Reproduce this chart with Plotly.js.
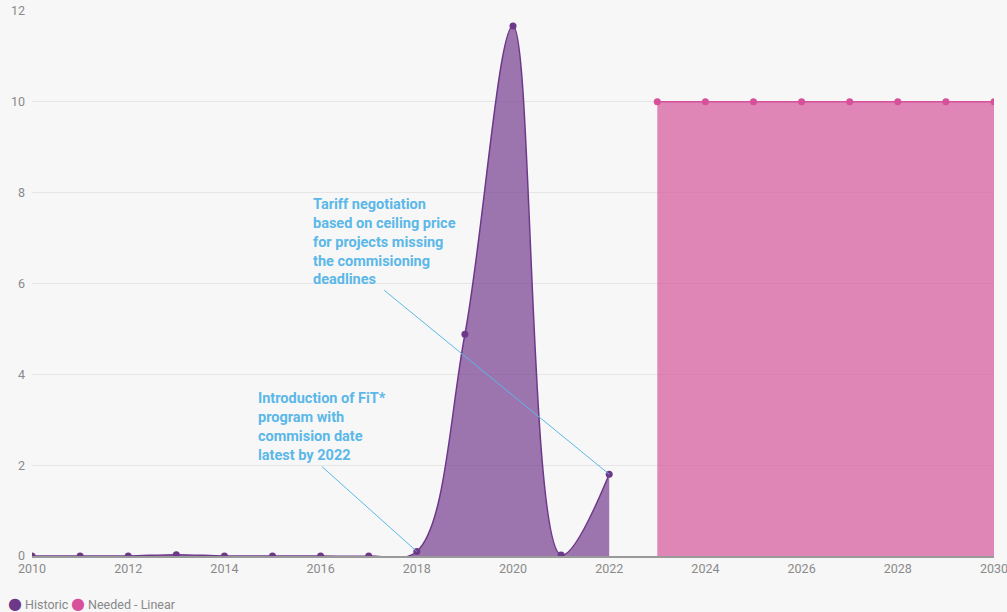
<!DOCTYPE html>
<html>
<head>
<meta charset="utf-8">
<script src="https://cdn.plot.ly/plotly-3.0.1.min.js"></script>
<style>html,body{margin:0;padding:0;background:#f7f7f7;}#chart{width:1007px;height:612px;}</style>
</head>
<body>
<div id="chart"></div>
<script>
const historicYears = [2010,2011,2012,2013,2014,2015,2016,2017,2018,2019,2020,2021,2022];
const historicValues = [0,0,0,0.03,0,0,0,0,0.1,4.88,11.67,0.02,1.8];
const neededYears = [2023,2024,2025,2026,2027,2028,2029,2030];
const neededValues = [10,10,10,10,10,10,10,10];
const xTicks = [2010,2012,2014,2016,2018,2020,2022,2024,2026,2028,2030];
const yTicks = [0,2,4,6,8,10,12];
const seriesNames = ['Historic', 'Needed - Linear'];

const purple = '#6e3889';
const pink = '#d6509a';
const font = 'Roboto, "Open Sans", sans-serif';

const traces = [
  {x: historicYears, y: historicValues, type: 'scatter', mode: 'lines+markers', name: seriesNames[0],
   line: {color: purple, width: 1.5, shape: 'spline', smoothing: 1}, marker: {color: purple, size: 7},
   fill: 'tozeroy', fillcolor: 'rgba(120,66,146,0.72)', showlegend: false, hoverinfo: 'skip'},
  {x: neededYears, y: neededValues, type: 'scatter', mode: 'lines+markers', name: seriesNames[1],
   line: {color: pink, width: 1.5}, marker: {color: pink, size: 7},
   fill: 'tozeroy', fillcolor: 'rgba(214,90,158,0.72)', showlegend: false, hoverinfo: 'skip'}
];

const annColor = '#5bb8e8';
const annFont = {color: annColor, size: 14.5, family: font, weight: 'bold'};
const legendAnn = (name, color, xpx) => ({
  x: (xpx - 32) / 962, y: (556 - 603) / 545, xref: 'paper', yref: 'paper', xanchor: 'left', yanchor: 'middle',
  showarrow: false, align: 'left',
  text: '<span style="color:' + color + ';font-size:16px;font-family:DejaVu Sans">●</span><span style="font-size:12.5px"> ' + name + '</span>',
  font: {family: font, color: '#888', size: 12.5}
});

const layout = {
  width: 1007, height: 612,
  paper_bgcolor: '#f7f7f7', plot_bgcolor: '#f7f7f7',
  margin: {l: 32, r: 13, t: 11, b: 56, autoexpand: false},
  font: {family: font, color: '#888', size: 12},
  xaxis: {range: [2010, 2030], tickvals: xTicks, ticktext: xTicks.map(String), showgrid: false, zeroline: false,
          showline: true, linecolor: '#9a9a9a', linewidth: 1.5, ticks: '', tickfont: {size: 12.5, color: '#8a8a8a'},
          ticklabeloverflow: 'allow'},
  yaxis: {range: [0, 12], tickvals: yTicks, showgrid: true, gridcolor: '#e6e6e6', gridwidth: 1, zeroline: false,
          showline: false, ticks: '', tickfont: {size: 12.5, color: '#8a8a8a'}, ticklabelstandoff: 6},
  showlegend: false,
  annotations: [
    {x: 2018, y: 0.1, xref: 'x', yref: 'y', ax: 322 - 417, ay: 466 - 551, text: 'Introduction of FiT*<br>program with<br>commision date<br>latest by 2022',
     showarrow: true, arrowhead: 0, arrowwidth: 1, arrowcolor: annColor, standoff: 0,
     xanchor: 'center', yanchor: 'bottom', font: annFont, align: 'left'},
    {x: 2022, y: 1.8, xref: 'x', yref: 'y', ax: 384 - 609, ay: 290 - 474, text: 'Tariff negotiation<br>based on ceiling price<br>for projects missing<br>the commisioning<br>deadlines',
     showarrow: true, arrowhead: 0, arrowwidth: 1, arrowcolor: annColor,
     yanchor: 'bottom', font: annFont, align: 'left'},
    legendAnn(seriesNames[0], purple, 6),
    legendAnn(seriesNames[1], pink, 69)
  ]
};

Plotly.newPlot('chart', traces, layout, {displayModeBar: false, staticPlot: true});
</script>
</body>
</html>
